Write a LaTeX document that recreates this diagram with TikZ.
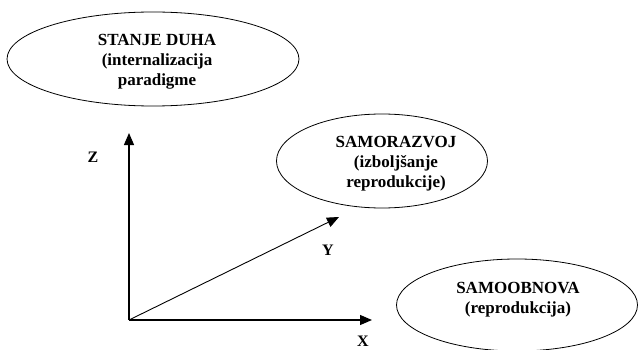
\documentclass[tikz,border=0pt]{standalone}
\usepackage{fontspec}
\setmainfont{Liberation Serif}
\usetikzlibrary{shapes.geometric,arrows.meta}
\begin{document}
\begin{tikzpicture}[x=1pt,y=-1pt,
  oval/.style={draw,ellipse,line width=0.8pt,inner sep=0pt},
  txt/.style={align=center,font=\fontsize{17}{20}\selectfont\bfseries},
  lbl/.style={font=\fontsize{16}{18}\selectfont\bfseries,inner sep=1pt},
  axis/.style={line width=1.2pt,-{Triangle[length=12pt,width=10pt]}}]
\useasboundingbox (0,0) rectangle (639,350);
\clip (0,0) rectangle (639,350);
\node[oval,minimum width=292pt,minimum height=94pt] (e1) at (153,59) {};
\node[txt] (t1) at (157,62) {STANJE DUHA\\(internalizacija\\paradigme};
\node[oval,minimum width=211pt,minimum height=94pt] (e2) at (382,161) {};
\node[txt] (t2) at (396,164) {SAMORAZVOJ\\(izboljšanje\\reprodukcije)};
\node[oval,minimum width=241pt,minimum height=92pt] (e3) at (517,305) {};
\node[txt] (t3) at (518,300) {SAMOOBNOVA\\(reprodukcija)};
\coordinate (o) at (129,320);
\coordinate (z) at (129,133);
\coordinate (x) at (372,320);
\coordinate (y) at (339,217);
\draw[axis] (o) -- (z);
\draw[axis] (o) -- (x);
\draw[axis,line width=0.9pt] (o) -- (y);
\node[lbl] (lz) at (93,157) {Z};
\node[lbl] (ly) at (328,250) {Y};
\node[lbl] (lx) at (363,341) {X};
\end{tikzpicture}
\end{document}
